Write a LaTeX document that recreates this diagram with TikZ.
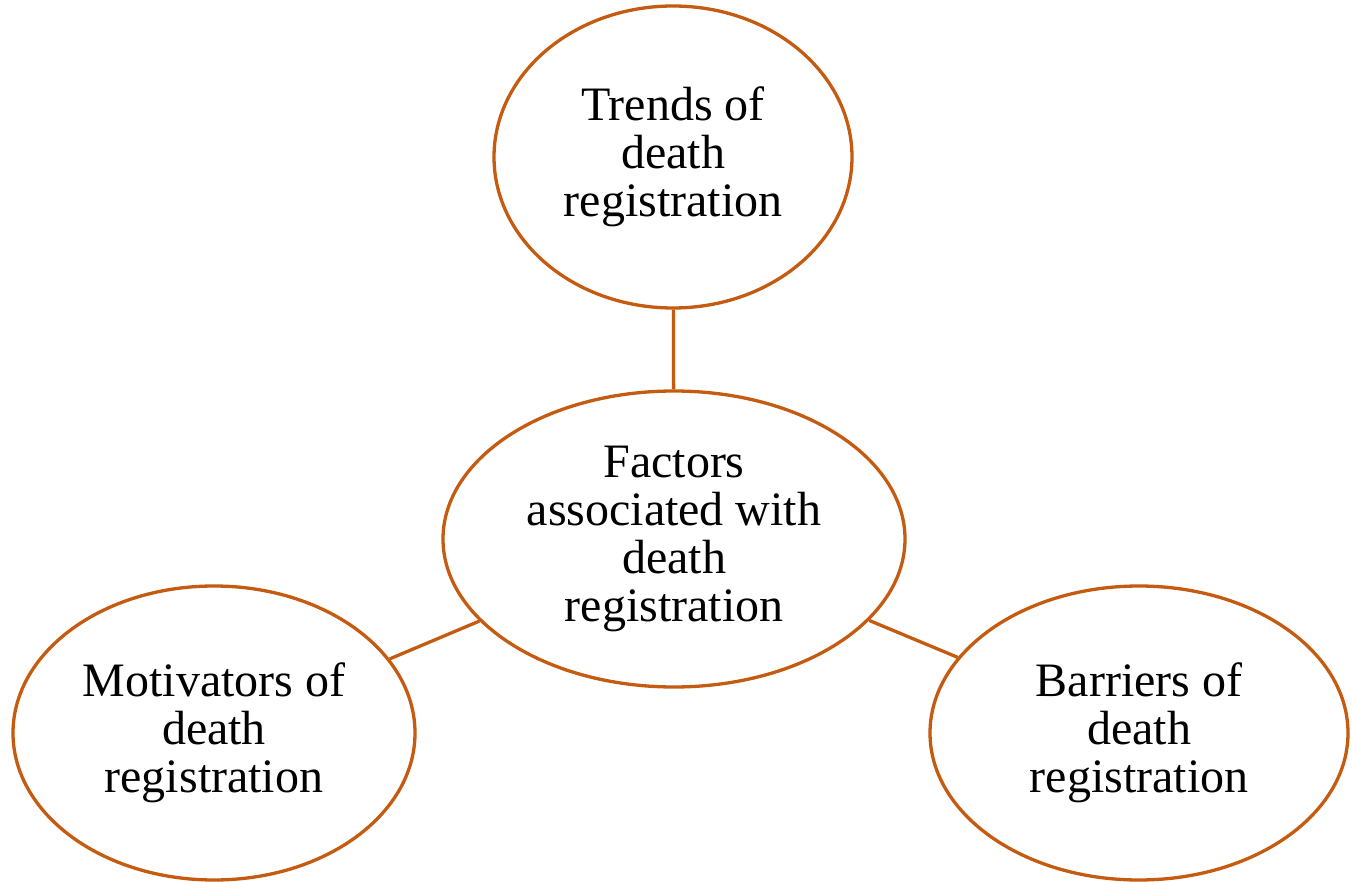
\documentclass[tikz,border=0pt]{standalone}
\usepackage{fontspec}
\setmainfont{Liberation Serif}
\usetikzlibrary{shapes.geometric}
\definecolor{rustline}{HTML}{C55A11}

\begin{document}
\begin{tikzpicture}[x=1pt,y=-1pt,
  bubble/.style={ellipse, draw=rustline, line width=3.3pt, inner sep=0pt,
    align=center, font=\fontsize{48}{48}\selectfont},
  link/.style={draw=rustline, line width=3.3pt}]
\useasboundingbox (0,0) rectangle (1352,882);
\node[bubble, minimum width=358pt, minimum height=302pt] (trends) at (673,157) {Trends of\\death\\registration};
\node[bubble, minimum width=462pt, minimum height=296pt] (factors) at (674,539) {Factors\\associated with\\death\\registration};
\node[bubble, minimum width=402pt, minimum height=294pt] (motiv) at (214,733) {Motivators of\\death\\registration};
\node[bubble, minimum width=418pt, minimum height=294pt] (barr) at (1139,733) {Barriers of\\death\\registration};
\foreach \n in {trends,motiv,barr}{
  \draw[link] (factors) -- (\n);
}
\end{tikzpicture}
\end{document}
